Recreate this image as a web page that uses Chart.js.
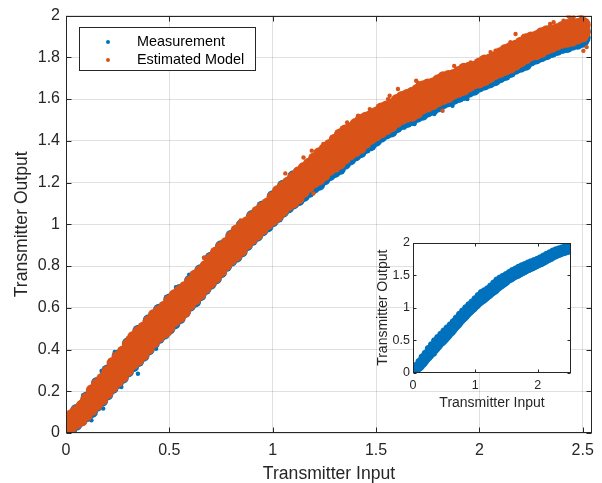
<!DOCTYPE html>
<html>
<head>
<meta charset="utf-8">
<script src="https://cdn.jsdelivr.net/npm/chart.js@4/dist/chart.umd.min.js"></script>
<style>
  html, body { margin: 0; padding: 0; background: #fff; }
  #wrap { position: relative; width: 602px; height: 483px; }
  #main { position: absolute; left: 0; top: 0; }
  #inset { position: absolute; left: 360px; top: 232px; }
</style>
</head>
<body>
<div id="wrap">
  <canvas id="main" width="602" height="483"></canvas>
  <canvas id="inset" width="220" height="180"></canvas>
</div>
<script>
// values: the cloud is kept as columns of points along the input axis
const inputX = [0, 0.05, 0.1, 0.15, 0.2, 0.25, 0.3, 0.35, 0.4, 0.45,
  0.5, 0.55, 0.6, 0.65, 0.7, 0.75, 0.8, 0.85, 0.9, 0.95,
  1, 1.05, 1.1, 1.15, 1.2, 1.25, 1.3, 1.35, 1.4, 1.45,
  1.5, 1.55, 1.6, 1.65, 1.7, 1.75, 1.8, 1.85, 1.9, 1.95,
  2, 2.05, 2.1, 2.15, 2.2, 2.25, 2.3, 2.35, 2.4, 2.45,
  2.5];
// edge points read between those columns
const inputXHalf = [0.025, 0.075, 0.125, 0.175, 0.225, 0.275, 0.325, 0.375, 0.425, 0.475,
  0.525, 0.575, 0.625, 0.675, 0.725, 0.775, 0.825, 0.875, 0.925, 0.975,
  1.025, 1.075, 1.125, 1.175, 1.225, 1.275, 1.325, 1.375, 1.425, 1.475,
  1.525, 1.575, 1.625, 1.675, 1.725, 1.775, 1.825, 1.875, 1.925, 1.975,
  2.025, 2.075, 2.125, 2.175, 2.225, 2.275, 2.325, 2.375, 2.425, 2.475];

const measRow1 = [-0.005, 0.04, 0.08, 0.13, 0.185, 0.24, 0.295, 0.345, 0.4, 0.455,
  0.5, 0.55, 0.61, 0.66, 0.715, 0.77, 0.825, 0.87, 0.925, 0.97,
  1.015, 1.06, 1.1, 1.135, 1.175, 1.215, 1.25, 1.29, 1.33, 1.365,
  1.4, 1.435, 1.465, 1.49, 1.515, 1.54, 1.565, 1.59, 1.61, 1.635,
  1.66, 1.68, 1.705, 1.73, 1.755, 1.785, 1.805, 1.825, 1.845, 1.86,
  1.875];
const measRow2 = [0.02, 0.06, 0.105, 0.16, 0.21, 0.275, 0.33, 0.385, 0.435, 0.485,
  0.535, 0.585, 0.64, 0.69, 0.75, 0.8, 0.855, 0.905, 0.95, 0.995,
  1.04, 1.085, 1.13, 1.165, 1.205, 1.245, 1.28, 1.32, 1.36, 1.395,
  1.425, 1.46, 1.49, 1.515, 1.54, 1.565, 1.59, 1.615, 1.635, 1.66,
  1.68, 1.7, 1.73, 1.755, 1.78, 1.805, 1.825, 1.845, 1.865, 1.88,
  1.895];
const measRow3 = [0.04, 0.09, 0.14, 0.205, 0.265, 0.33, 0.39, 0.45, 0.5, 0.55,
  0.6, 0.65, 0.695, 0.745, 0.805, 0.86, 0.91, 0.96, 1.01, 1.055,
  1.1, 1.145, 1.185, 1.225, 1.255, 1.3, 1.34, 1.38, 1.415, 1.45,
  1.48, 1.51, 1.54, 1.565, 1.59, 1.615, 1.635, 1.655, 1.675, 1.695,
  1.72, 1.74, 1.765, 1.79, 1.815, 1.845, 1.865, 1.88, 1.895, 1.91,
  1.925];
const measRow4 = [0.065, 0.11, 0.17, 0.24, 0.3, 0.37, 0.43, 0.49, 0.54, 0.59,
  0.64, 0.685, 0.73, 0.78, 0.84, 0.895, 0.945, 0.995, 1.04, 1.085,
  1.135, 1.185, 1.23, 1.255, 1.285, 1.33, 1.375, 1.42, 1.45, 1.48,
  1.505, 1.535, 1.565, 1.59, 1.615, 1.64, 1.66, 1.68, 1.7, 1.72,
  1.74, 1.76, 1.79, 1.815, 1.84, 1.865, 1.885, 1.9, 1.915, 1.93,
  1.935];
const measLowHalf = [0.015, 0.06, 0.1, 0.155, 0.215, 0.265, 0.32, 0.37, 0.43, 0.475,
  0.525, 0.58, 0.63, 0.69, 0.74, 0.8, 0.845, 0.9, 0.945, 0.99,
  1.035, 1.08, 1.115, 1.155, 1.19, 1.235, 1.265, 1.31, 1.345, 1.38,
  1.42, 1.445, 1.48, 1.5, 1.525, 1.55, 1.58, 1.6, 1.62, 1.645,
  1.67, 1.69, 1.715, 1.745, 1.765, 1.795, 1.815, 1.835, 1.85, 1.865];

const modelRow1 = [0, 0.045, 0.085, 0.135, 0.19, 0.245, 0.3, 0.35, 0.405, 0.46,
  0.505, 0.555, 0.615, 0.665, 0.72, 0.775, 0.83, 0.875, 0.93, 0.975,
  1.02, 1.065, 1.105, 1.155, 1.2, 1.235, 1.275, 1.315, 1.35, 1.39,
  1.425, 1.455, 1.49, 1.515, 1.535, 1.565, 1.59, 1.61, 1.635, 1.66,
  1.68, 1.705, 1.73, 1.75, 1.78, 1.81, 1.825, 1.85, 1.87, 1.88,
  1.9];
const modelRow2 = [0.02, 0.065, 0.11, 0.165, 0.215, 0.28, 0.335, 0.39, 0.44, 0.49,
  0.54, 0.59, 0.645, 0.695, 0.755, 0.805, 0.86, 0.91, 0.955, 1.0,
  1.05, 1.095, 1.14, 1.185, 1.23, 1.27, 1.31, 1.35, 1.39, 1.42,
  1.455, 1.485, 1.515, 1.54, 1.565, 1.59, 1.615, 1.64, 1.66, 1.68,
  1.705, 1.725, 1.755, 1.78, 1.805, 1.83, 1.85, 1.87, 1.89, 1.905,
  1.92];
const modelRow3 = [0.04, 0.09, 0.14, 0.205, 0.265, 0.33, 0.39, 0.45, 0.5, 0.55,
  0.6, 0.65, 0.695, 0.745, 0.805, 0.86, 0.91, 0.96, 1.005, 1.05,
  1.1, 1.15, 1.195, 1.24, 1.285, 1.33, 1.37, 1.415, 1.445, 1.48,
  1.505, 1.54, 1.57, 1.595, 1.62, 1.645, 1.665, 1.685, 1.705, 1.725,
  1.75, 1.77, 1.795, 1.82, 1.845, 1.87, 1.89, 1.91, 1.925, 1.94,
  1.955];
const modelRow4 = [0.06, 0.105, 0.165, 0.235, 0.295, 0.365, 0.425, 0.485, 0.535, 0.585,
  0.635, 0.68, 0.725, 0.775, 0.835, 0.89, 0.94, 0.99, 1.035, 1.08,
  1.13, 1.18, 1.225, 1.27, 1.315, 1.36, 1.405, 1.45, 1.48, 1.51,
  1.535, 1.565, 1.595, 1.62, 1.645, 1.67, 1.69, 1.71, 1.73, 1.75,
  1.77, 1.79, 1.82, 1.845, 1.87, 1.895, 1.915, 1.93, 1.945, 1.96,
  1.965];
const modelLowHalf = [0.025, 0.06, 0.11, 0.16, 0.22, 0.27, 0.33, 0.375, 0.435, 0.48,
  0.535, 0.58, 0.64, 0.695, 0.745, 0.805, 0.85, 0.905, 0.95, 1.0,
  1.04, 1.09, 1.125, 1.18, 1.215, 1.26, 1.29, 1.335, 1.365, 1.41,
  1.44, 1.47, 1.505, 1.52, 1.555, 1.575, 1.6, 1.625, 1.645, 1.675,
  1.69, 1.72, 1.74, 1.765, 1.795, 1.815, 1.84, 1.86, 1.875, 1.89];
const modelHighHalf = [0.085, 0.13, 0.205, 0.26, 0.335, 0.39, 0.46, 0.505, 0.565, 0.605,
  0.66, 0.7, 0.755, 0.8, 0.865, 0.91, 0.97, 1.01, 1.06, 1.1,
  1.16, 1.2, 1.25, 1.29, 1.34, 1.38, 1.43, 1.46, 1.5, 1.52,
  1.555, 1.575, 1.61, 1.63, 1.66, 1.675, 1.705, 1.715, 1.745, 1.755,
  1.785, 1.8, 1.835, 1.855, 1.885, 1.9, 1.925, 1.935, 1.955, 1.96];

// stray points sticking out of the band
const measSpeckX = [0, 0.083, 0.139, 0.172, 0.236, 0.308, 0.348, 0.396, 0.428, 0.484,
  0.532, 0.596, 0.668, 0.74, 0.941, 0.123, 0.18, 0.268, 0.348, 0.436,
  0.508, 0.636, 0.764, 0.925, 0.981, 1.109, 1.253, 1.365, 1.477, 1.638,
  1.686, 1.782, 1.87, 1.942, 2.054, 2.135, 2.215, 2.295, 2.375, 2.455,
  2.519, 2.519];
const measSpeckY = [0.077, 0.18, 0.252, 0.297, 0.388, 0.444, 0.483, 0.539, 0.579, 0.651,
  0.699, 0.758, 0.84, 0.906, 1.098, 0.061, 0.117, 0.22, 0.284, 0.404,
  0.491, 0.643, 0.778, 0.962, 0.986, 1.098, 1.201, 1.305, 1.361, 1.464,
  1.48, 1.528, 1.568, 1.6, 1.665, 1.705, 1.745, 1.793, 1.825, 1.849,
  1.873, 1.912];
const modelSpeckX = [0.3, 0.5, 0.668, 0.845, 1.061, 1.149, 1.197, 1.245, 1.36, 1.477,
  1.558, 1.566, 1.606, 1.694, 1.702, 1.83, 1.822, 1.958, 2.054, 2.15,
  2.175, 2.215, 2.222, 2.271, 2.279, 2.342, 2.343, 2.407, 2.431, 2.439,
  2.487, 2.495, 2.503, 2.519, 2.263, 2.311, 2.359, 2.391, 2.455, 2.471,
  2.078, 2.183, 1.878, 2.022, 2.087, 1.606, 1.47, 1.413, 1.285, 1.189];
const modelSpeckY = [0.455, 0.476, 0.84, 1.018, 1.244, 1.32, 1.148, 1.385, 1.488, 1.544,
  1.6, 1.616, 1.616, 1.688, 1.679, 1.711, 1.544, 1.775, 1.825, 1.873,
  1.912, 1.903, 1.904, 1.903, 1.92, 1.96, 1.935, 1.976, 1.997, 1.99,
  2.0, 1.995, 1.831, 1.849, 1.897, 1.921, 1.968, 1.952, 1.992, 1.968,
  1.832, 1.864, 1.759, 1.799, 1.831, 1.648, 1.552, 1.52, 1.416, 1.353];

const seriesNames = ['Measurement', 'Estimated Model'];
const xTicks = [0, 0.5, 1, 1.5, 2, 2.5];
const yTicks = [0, 0.2, 0.4, 0.6, 0.8, 1, 1.2, 1.4, 1.6, 1.8, 2];
const insetXTicks = [0, 1, 2];
const insetYTicks = [0, 0.5, 1, 1.5, 2];

const FONT = '"Liberation Sans", Arial, Helvetica, sans-serif';
const AXIS = '#262626';
const GRID = 'rgba(38,38,38,0.14)';
const BLUE = '#0072BD';
const ORANGE = '#D95319';

function rowsToPoints(xs, rows) {
  const pts = [];
  rows.forEach(row => {
    xs.forEach((x, i) => {
      if (row[i] !== undefined) pts.push({x: x, y: row[i]});
    });
  });
  return pts;
}

function pairs(xs, ys) {
  return xs.map((x, i) => ({x: x, y: ys[i]}));
}

// edge rows keep the outline, inner rows fill the middle of the band
const measEdge = rowsToPoints(inputX, [measRow1, measRow4])
  .concat(rowsToPoints(inputXHalf, [measLowHalf]));
const measInner = rowsToPoints(inputX, [measRow2, measRow3]);
const modelEdge = rowsToPoints(inputX, [modelRow1, modelRow4])
  .concat(rowsToPoints(inputXHalf, [modelLowHalf, modelHighHalf]));
const modelInner = rowsToPoints(inputX, [modelRow2, modelRow3]);
const measSpeck = pairs(measSpeckX, measSpeckY);
const modelSpeck = pairs(modelSpeckX, modelSpeckY);

// box round the axes with inward ticks on all four sides
const frame = {
  id: 'frame',
  afterDatasetsDraw(chart, args, o) {
    const {ctx, chartArea: a, scales} = chart;
    const L = Math.round(a.left) + 0.5, R = Math.round(a.right) - 0.5;
    const T = Math.round(a.top) + 0.5, B = Math.round(a.bottom) - 0.5;
    ctx.save();
    ctx.strokeStyle = AXIS;
    ctx.lineWidth = 1;
    ctx.beginPath();
    scales.x.ticks.forEach(t => {
      const px = Math.round(scales.x.getPixelForValue(t.value)) + 0.5;
      ctx.moveTo(px, B); ctx.lineTo(px, B - o.len);
      ctx.moveTo(px, T); ctx.lineTo(px, T + o.len);
    });
    scales.y.ticks.forEach(t => {
      const py = Math.round(scales.y.getPixelForValue(t.value)) + 0.5;
      ctx.moveTo(L, py); ctx.lineTo(L + o.len, py);
      ctx.moveTo(R, py); ctx.lineTo(R - o.len, py);
    });
    ctx.stroke();
    ctx.strokeRect(L, T, R - L, B - T);
    ctx.restore();
  }
};

const boxLegend = {
  id: 'boxLegend',
  afterDraw(chart, args, o) {
    const ctx = chart.ctx;
    ctx.save();
    ctx.fillStyle = '#fff';
    ctx.fillRect(o.x, o.y, o.w, o.h);
    ctx.strokeStyle = AXIS;
    ctx.lineWidth = 1;
    ctx.strokeRect(o.x + 0.5, o.y + 0.5, o.w, o.h);
    ctx.font = o.size + 'px ' + FONT;
    ctx.textBaseline = 'middle';
    o.items.forEach((it, i) => {
      const cy = o.firstY + i * o.gap;
      ctx.beginPath();
      ctx.arc(o.markX, cy, 2, 0, Math.PI * 2);
      ctx.fillStyle = it.color;
      ctx.fill();
      ctx.fillStyle = '#000';
      ctx.fillText(it.text, o.textX, cy);
    });
    ctx.restore();
  }
};

const whitePlot = {
  id: 'whitePlot',
  beforeDraw(chart) {
    const {ctx, chartArea: a} = chart;
    ctx.save();
    ctx.fillStyle = '#fff';
    ctx.fillRect(a.left, a.top, a.right - a.left, a.bottom - a.top);
    ctx.restore();
  }
};

function dots(label, data, color, radius, order) {
  return {
    label: label, data: data, order: order,
    backgroundColor: color, borderWidth: 0,
    pointRadius: radius, pointHoverRadius: radius,
    showLine: false, clip: 0
  };
}

function setupMain() {
  const ctx = document.getElementById('main').getContext('2d');
  return new Chart(ctx, {
    type: 'scatter',
    data: {
      datasets: [
        dots(seriesNames[1], modelInner, ORANGE, 8, 0),
        dots(seriesNames[1], modelEdge, ORANGE, 6, 1),
        dots(seriesNames[1], modelSpeck, ORANGE, 2.2, 2),
        dots(seriesNames[0], measSpeck, BLUE, 2.2, 3),
        dots(seriesNames[0], measInner, BLUE, 8, 4),
        dots(seriesNames[0], measEdge, BLUE, 6, 5)
      ]
    },
    options: {
      responsive: false,
      animation: false,
      events: [],
      devicePixelRatio: 1,
      layout: { padding: { left: 0, top: 15, right: 6, bottom: 0 } },
      scales: {
        x: {
          type: 'linear', min: 0, max: 2.545,
          afterBuildTicks: s => { s.ticks = xTicks.map(v => ({value: v})); },
          afterFit: s => { s.height = 50; },
          grid: { color: GRID, drawTicks: false },
          border: { display: false },
          ticks: { color: AXIS, font: { family: FONT, size: 16 }, padding: 8, maxRotation: 0, autoSkip: false, callback: v => String(v) },
          title: { display: true, text: 'Transmitter Input', color: AXIS, font: { family: FONT, size: 17.6, lineHeight: 1 }, padding: { top: 0, bottom: 0 } }
        },
        y: {
          type: 'linear', min: 0, max: 2,
          afterBuildTicks: s => { s.ticks = yTicks.map(v => ({value: v})); },
          afterFit: s => { s.width = 66; },
          grid: { color: GRID, drawTicks: false },
          border: { display: false },
          ticks: { color: AXIS, font: { family: FONT, size: 16 }, padding: 6, autoSkip: false, callback: v => String(v) },
          title: { display: true, text: 'Transmitter Output', color: AXIS, font: { family: FONT, size: 17.6, lineHeight: 1 }, padding: { top: 13.7, bottom: 0 } }
        }
      },
      plugins: {
        legend: { display: false },
        tooltip: { enabled: false },
        frame: { len: 5 },
        boxLegend: {
          x: 79, y: 27, w: 176, h: 43, markX: 108, textX: 137, firstY: 42, gap: 18, size: 14.4,
          items: [ { text: seriesNames[0], color: BLUE }, { text: seriesNames[1], color: ORANGE } ]
        }
      }
    },
    plugins: [frame, boxLegend]
  });
}

function setupInset() {
  const ctx = document.getElementById('inset').getContext('2d');
  return new Chart(ctx, {
    type: 'scatter',
    data: {
      datasets: [
        dots(seriesNames[0], measSpeck, BLUE, 2, 2),
        dots(seriesNames[0], measInner, BLUE, 4.2, 1),
        dots(seriesNames[0], measEdge, BLUE, 3.8, 0)
      ]
    },
    options: {
      responsive: false,
      animation: false,
      events: [],
      devicePixelRatio: 1,
      layout: { padding: { left: 0, top: 10, right: 9, bottom: 0 } },
      scales: {
        x: {
          type: 'linear', min: 0, max: 2.536,
          afterBuildTicks: s => { s.ticks = insetXTicks.map(v => ({value: v})); },
          afterFit: s => { s.height = 39; },
          grid: { display: false, drawTicks: false },
          border: { display: false },
          ticks: { color: AXIS, font: { family: FONT, size: 12.5 }, padding: 5.5, maxRotation: 0, autoSkip: false, callback: v => String(v) },
          title: { display: true, text: 'Transmitter Input', color: AXIS, font: { family: FONT, size: 14, lineHeight: 1 }, padding: { top: 0, bottom: 1.7 } }
        },
        y: {
          type: 'linear', min: 0, max: 2,
          afterBuildTicks: s => { s.ticks = insetYTicks.map(v => ({value: v})); },
          afterFit: s => { s.width = 53; },
          grid: { display: false, drawTicks: false },
          border: { display: false },
          ticks: { color: AXIS, font: { family: FONT, size: 12.5 }, padding: 3, autoSkip: false, callback: v => String(v) },
          title: { display: true, text: 'Transmitter Output', color: AXIS, font: { family: FONT, size: 14, lineHeight: 1 }, padding: { top: 15.7, bottom: 0 } }
        }
      },
      plugins: {
        legend: { display: false },
        tooltip: { enabled: false },
        frame: { len: 3 }
      }
    },
    plugins: [whitePlot, frame]
  });
}

setupMain();
setupInset();
</script>
</body>
</html>
